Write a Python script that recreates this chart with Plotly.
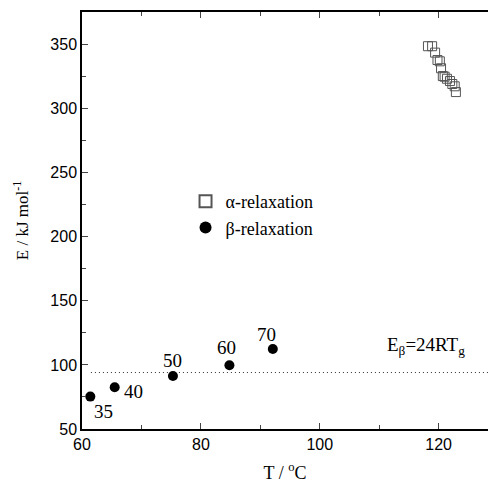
import plotly.graph_objects as go

# alpha-relaxation data (T in °C, E in kJ/mol)
alpha_T = [118.2, 118.9, 119.4, 119.8, 120.2, 120.4, 120.7, 121.0, 121.4, 121.9, 122.3, 122.7, 122.9]
alpha_E = [348.8, 348.8, 343.8, 338.0, 337.0, 331.6, 325.5, 325.0, 323.4, 321.6, 319.3, 317.5, 313.0]

# beta-relaxation data
beta_T = [61.4, 65.5, 75.3, 84.8, 92.1]
beta_E = [75.3, 82.6, 91.4, 99.8, 112.5]
beta_labels = ["35", "40", "50", "60", "70"]

# E_beta = 24 R Tg line
line_T = [61.5, 128.3]
line_E = [94.1, 94.1]

serif = "Liberation Serif"
sans = "Liberation Sans"

fig = go.Figure()
fig.add_trace(go.Scatter(x=line_T, y=line_E, mode="lines",
                         line=dict(color="#333", width=1.2, dash="1px,3px"),
                         showlegend=False, hoverinfo="skip"))
fig.add_trace(go.Scatter(x=alpha_T, y=alpha_E, mode="markers", name="α-relaxation",
                         marker=dict(symbol="square-open", size=9, color="#555",
                                     line=dict(width=1))))
fig.add_trace(go.Scatter(x=beta_T, y=beta_E, mode="markers", name="β-relaxation",
                         marker=dict(symbol="circle", size=10, color="black")))

shifts = [(13, -15), (19, -4), (0, 15), (-3, 18), (-6, 14)]
for t, e, lab, (dx, dy) in zip(beta_T, beta_E, beta_labels, shifts):
    fig.add_annotation(x=t, y=e, text=lab, showarrow=False, xshift=dx, yshift=dy,
                       font=dict(family=serif, size=19, color="black"))

fig.add_annotation(xref="paper", yref="paper", x=(385 - 82) / 406, y=(428.7 - 346) / 416.7,
                   xanchor="left", yanchor="middle", showarrow=False,
                   text="E<sub>β</sub>=24RT<sub>g</sub>",
                   font=dict(family=serif, size=19, color="black"))

fig.update_layout(
    width=488, height=485,
    margin=dict(l=82, r=0, t=12, b=56),
    paper_bgcolor="white", plot_bgcolor="white",
    font=dict(family=sans, size=16, color="black"),
    legend=dict(x=0.255, y=0.59, xanchor="left", yanchor="top",
                bgcolor="rgba(0,0,0,0)",
                font=dict(family=serif, size=18, color="black"),
                itemsizing="constant", tracegroupgap=0),
    showlegend=True,
)
fig.update_xaxes(range=[60, 128.3], tick0=60, dtick=20, ticks="inside", ticklen=6,
                 showline=True, linecolor="black", linewidth=1.5, mirror="allticks",
                 showgrid=False, zeroline=False,
                 minor=dict(dtick=10, ticks="inside", ticklen=4, showgrid=False),
                 title=dict(text="T / <sup>o</sup>C", font=dict(family=serif, size=18), standoff=14))
fig.update_yaxes(range=[50, 375.5], tick0=50, dtick=50, ticks="inside", ticklen=6,
                 showline=True, linecolor="black", linewidth=1.5,
                 showgrid=False, zeroline=False,
                 minor=dict(dtick=25, ticks="inside", ticklen=4, showgrid=False),
                 title=dict(text="E / kJ mol<sup>-1</sup>", font=dict(family=serif, size=17), standoff=17))

fig.write_html("out.html", config={"displayModeBar": False},
               post_script="document.body.style.margin='0';document.body.style.overflow='hidden';")
